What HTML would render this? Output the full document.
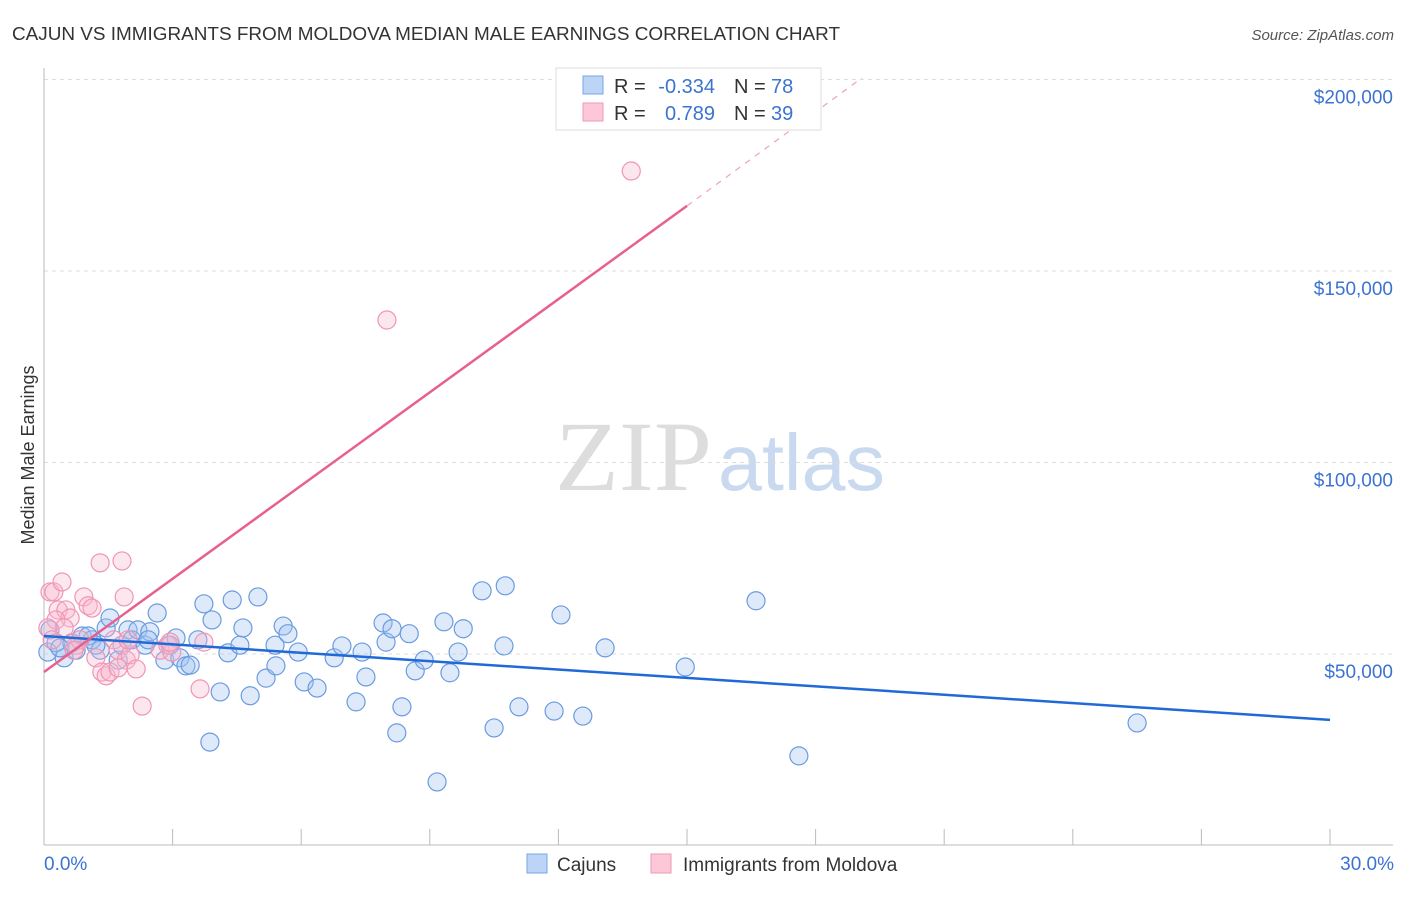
<!DOCTYPE html>
<html><head><meta charset="utf-8">
<style>
body{margin:0;background:#fff;font-family:"Liberation Sans",sans-serif;}
svg text{font-family:"Liberation Sans",sans-serif;}
svg text.serif{font-family:"Liberation Serif",serif;}
</style></head>
<body>
<svg id="chart" width="1406" height="892" xmlns="http://www.w3.org/2000/svg">
<text x="12" y="40" font-size="18" fill="#333" textLength="828" lengthAdjust="spacingAndGlyphs">CAJUN VS IMMIGRANTS FROM MOLDOVA MEDIAN MALE EARNINGS CORRELATION CHART</text>
<text x="1394" y="40" font-size="15" fill="#555" text-anchor="end" font-style="italic">Source: ZipAtlas.com</text>
<text class="serif" x="555" y="490" font-size="100" fill="#ddd" textLength="157" lengthAdjust="spacingAndGlyphs">ZIP</text>
<text x="718" y="490" font-size="80" fill="#c9d9ef" textLength="167" lengthAdjust="spacingAndGlyphs">atlas</text>
<text transform="translate(34,455) rotate(-90)" font-size="18" fill="#333" text-anchor="middle">Median Male Earnings</text>
<g id="grid"></g>
<g id="marks"></g>
<g>
<rect x="556" y="68" width="265" height="62" fill="#fff" stroke="#ddd"/>
<rect x="583" y="76" width="20" height="18" fill="#bcd4f5" stroke="#7aa6e6"/>
<rect x="583" y="103" width="20" height="18" fill="#fcc8d8" stroke="#ee9ab5"/>
<text x="614" y="93" font-size="20" fill="#333">R =</text>
<text x="715" y="93" font-size="20" fill="#3b73d1" text-anchor="end">-0.334</text>
<text x="734" y="93" font-size="20" fill="#333">N =</text>
<text x="771" y="93" font-size="20" fill="#3b73d1">78</text>
<text x="614" y="120" font-size="20" fill="#333">R =</text>
<text x="715" y="120" font-size="20" fill="#3b73d1" text-anchor="end">0.789</text>
<text x="734" y="120" font-size="20" fill="#333">N =</text>
<text x="771" y="120" font-size="20" fill="#3b73d1">39</text>
</g>
<g>
<rect x="527" y="854" width="20" height="19" fill="#bcd4f5" stroke="#7aa6e6"/>
<text x="557" y="871" font-size="19" fill="#333">Cajuns</text>
<rect x="651" y="854" width="20" height="19" fill="#fcc8d8" stroke="#ee9ab5"/>
<text x="683" y="871" font-size="19" fill="#333">Immigrants from Moldova</text>
</g>
</svg>
<script>
const yTicks=[50000,100000,150000,200000];
const yTickLabels=["$50,000","$100,000","$150,000","$200,000"];
const xTickLabels=["0.0%","30.0%"];
const cajunX=[0.09,0.14,0.28,0.47,0.65,0.89,1.12,1.31,1.45,1.54,1.73,1.82,1.96,2.05,2.19,2.36,2.47,2.64,2.82,2.94,3.08,3.17,3.31,3.41,3.59,3.73,3.92,4.11,4.29,4.39,4.57,4.64,4.81,4.99,5.18,5.39,5.41,5.58,5.69,5.93,6.07,6.37,6.77,6.95,7.28,7.42,7.51,7.91,7.98,8.12,8.23,8.35,8.52,8.66,8.87,9.17,9.33,9.47,9.66,9.78,10.22,10.50,10.73,10.76,11.08,11.90,12.06,12.57,13.09,14.96,16.61,17.61,25.50,3.87,0.37,0.75,1.03,2.43,1.21];
const cajunY=[50.5,56.3,52.9,49.0,52.9,54.7,53.7,51.0,56.8,59.4,48.4,52.3,56.3,53.7,56.3,52.3,55.8,60.7,48.4,52.3,54.2,49.0,46.9,47.1,53.7,63.1,58.9,40.1,50.3,64.1,52.3,56.8,39.1,64.9,43.7,52.3,46.9,57.3,55.3,50.5,42.7,41.1,49.0,52.1,37.5,50.5,44.0,58.1,53.1,56.6,29.4,36.2,55.3,45.6,48.4,16.6,58.4,45.1,50.5,56.6,66.5,30.7,52.1,67.8,36.2,35.1,60.2,33.8,51.6,46.6,63.9,23.4,32.0,27.0,51.6,51.0,54.7,53.7,52.3];
const moldX=[0.14,0.23,0.42,0.33,0.51,0.61,0.28,0.47,0.75,0.84,0.93,1.03,1.12,1.21,1.31,1.35,1.45,1.54,1.63,1.73,1.82,1.87,1.92,2.01,2.15,2.29,2.71,2.89,2.98,3.64,3.73,8.00,13.70,0.09,0.19,0.70,1.96,2.94,1.73];
const moldY=[66.2,66.2,68.8,61.5,61.5,59.4,58.9,56.8,52.3,53.7,64.9,62.6,62.0,49.0,73.8,45.3,44.3,45.3,53.7,51.0,74.3,64.9,48.4,49.8,46.1,36.4,51.0,52.3,50.5,40.9,53.1,137.2,176.1,56.8,53.7,51.0,53.7,53.1,46.4];
const cajunTrend=[54.7,32.8];
const moldTrend=[45.3,167.0,200.4];
const moldTrendX=[0,15,19.08];

const NS="http://www.w3.org/2000/svg";
const X=v=>44+v/30*1286;
const Y=v=>845.5-v/50*191.5;
function mk(tag,attrs,parent){const e=document.createElementNS(NS,tag);for(const k in attrs)e.setAttribute(k,attrs[k]);parent.appendChild(e);return e;}
const grid=document.getElementById('grid'),marks=document.getElementById('marks');
yTicks.forEach((t,i)=>{
  const y=Y(t/1000);
  const l=mk('line',{x1:44,x2:1393,y1:y,y2:y,stroke:'#ddd','stroke-dasharray':'4,4'},grid);
  
  
  const tx=mk('text',{x:1393,y:y+24,'font-size':19,fill:'#3b73d1','text-anchor':'end'},grid);
  tx.textContent=yTickLabels[i];
  
  
});
const ax=mk('line',{x1:44,x2:44,y1:68,y2:845,stroke:'#bbb'},grid);


const bx=mk('line',{x1:44,x2:1393,y1:845,y2:845,stroke:'#bbb'},grid);


for(let i=0;i<=10;i++){
  const x=X(i*3);
  const t=mk('line',{x1:x,x2:x,y1:829,y2:845,stroke:'#bbb'},grid);
  
  
}
[[0,'start',44],[30,'end',1394]].forEach((d,i)=>{
  const t=mk('text',{x:d[2],y:870,'font-size':19,fill:'#3b73d1','text-anchor':d[1]},grid);
  t.textContent=xTickLabels[i];
  
  
});
cajunX.forEach((v,i)=>{
  const c=mk('circle',{cx:X(v),cy:Y(cajunY[i]),r:9,fill:'rgba(160,195,240,0.35)',stroke:'#6a9be0','stroke-width':1.2},marks);
  
  
});
moldX.forEach((v,i)=>{
  const c=mk('circle',{cx:X(v),cy:Y(moldY[i]),r:9,fill:'rgba(250,185,205,0.35)',stroke:'#f095b4','stroke-width':1.2},marks);
  
  
});
const bl=mk('line',{x1:X(0),y1:Y(cajunTrend[0]),x2:X(30),y2:Y(cajunTrend[1]),stroke:'#1f6ad6','stroke-width':2.5},marks);


const pl=mk('line',{x1:X(moldTrendX[0]),y1:Y(moldTrend[0]),x2:X(moldTrendX[1]),y2:Y(moldTrend[1]),stroke:'#e8608e','stroke-width':2.5},marks);


const pd=mk('line',{x1:X(moldTrendX[1]),y1:Y(moldTrend[1]),x2:X(moldTrendX[2]),y2:Y(moldTrend[2]),stroke:'#f0a0bc','stroke-width':1.2,'stroke-dasharray':'6,6'},marks);


</script>
</body></html>
